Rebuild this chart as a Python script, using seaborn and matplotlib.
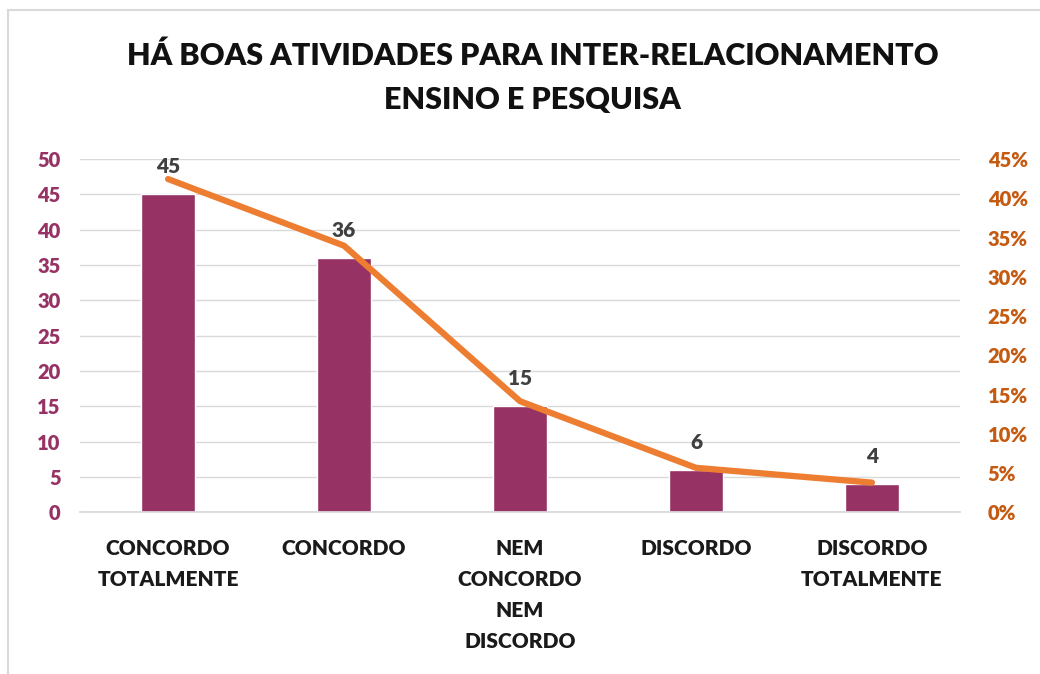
import matplotlib
matplotlib.use("Agg")
import matplotlib.pyplot as plt
import matplotlib.ticker as mticker
from matplotlib.patches import Rectangle
import pandas as pd
import seaborn as sns

# dados
categorias = ["CONCORDO\nTOTALMENTE", "CONCORDO", "NEM\nCONCORDO\nNEM\nDISCORDO",
              "DISCORDO", "DISCORDO\nTOTALMENTE"]
respostas = [45, 36, 15, 6, 4]
total = sum(respostas)
percentuais = [v / total for v in respostas]

df = pd.DataFrame({"categoria": categorias, "respostas": respostas, "pct": percentuais})

cor_barra = "#963264"
cor_linha = "#ED7D31"
cor_pct = "#C55A11"

sns.set_theme(style="white")
plt.rcParams["font.family"] = ["Lato", "DejaVu Sans"]

fig = plt.figure(figsize=(10.4, 6.74), dpi=100)
ax = fig.add_axes([0.077, 0.240, 0.846, 0.524])

sns.barplot(data=df, x="categoria", y="respostas", color=cor_barra, width=0.31,
            saturation=1, ax=ax)

ax.set_xlim(-0.5, 4.5)
ax.set_ylim(0, 50)
ax.set_yticks(range(0, 51, 5))
ax.yaxis.grid(True, color="#d9d9d9", linewidth=1)
ax.set_axisbelow(True)
for s in ["top", "left", "right"]:
    ax.spines[s].set_visible(False)
ax.spines["bottom"].set_color("#d9d9d9")
ax.set_xlabel("")
ax.set_ylabel("")
ax.tick_params(axis="y", colors=cor_barra, labelsize=14.5, length=0, pad=14)
ax.tick_params(axis="x", labelsize=15, length=0, pad=19)
for t in ax.get_xticklabels():
    t.set_fontweight("heavy")
    t.set_color("#1a1a1a")
    t.set_linespacing(1.75)
for t in ax.get_yticklabels():
    t.set_fontweight("heavy")

ax2 = ax.twinx()
sns.lineplot(data=df, x="categoria", y="pct", color=cor_linha, linewidth=4.5,
             sort=False, ax=ax2)
ax2.set_ylim(0, 0.45)
ax2.set_yticks([i / 100 for i in range(0, 46, 5)])
ax2.yaxis.set_major_formatter(mticker.PercentFormatter(1.0, decimals=0))
ax2.tick_params(axis="y", colors=cor_pct, labelsize=14.5, length=0, pad=20)
for t in ax2.get_yticklabels():
    t.set_fontweight("heavy")
for s in ax2.spines.values():
    s.set_visible(False)
ax2.set_ylabel("")
ax2.set_xlabel("")

# rótulos de dados por cima da linha
for i, v in enumerate(respostas):
    ax2.annotate(str(v), xy=(i, v), xycoords=ax.transData, xytext=(0, 13),
                 textcoords="offset points", ha="center", va="bottom",
                 fontsize=15, fontweight="heavy", color="#404040", zorder=5)

fig.text(0.512, 0.917, "HÁ BOAS ATIVIDADES PARA INTER-RELACIONAMENTO",
         ha="center", va="center", fontsize=22, fontweight="heavy", color="#111111")
fig.text(0.512, 0.852, "ENSINO E PESQUISA",
         ha="center", va="center", fontsize=22, fontweight="heavy", color="#111111")

fig.patches.append(Rectangle((0.008, -0.05), 1.1, 1.035, transform=fig.transFigure,
                             fill=False, edgecolor="#d9d9d9", linewidth=1.5))

fig.savefig("out.png", dpi=100)
